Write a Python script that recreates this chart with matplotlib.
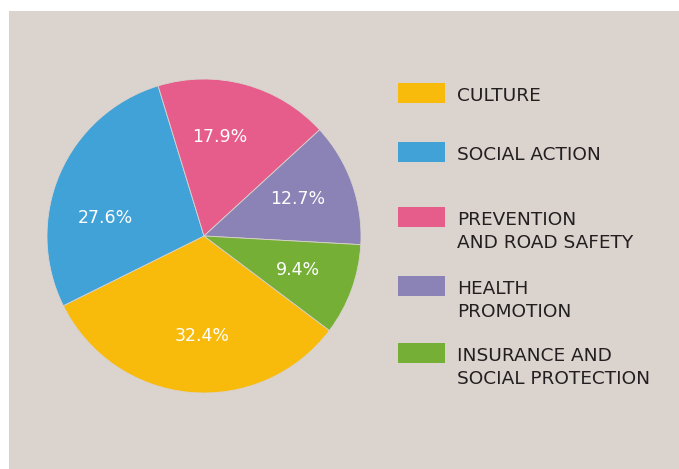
import numpy as np
import matplotlib
matplotlib.use("Agg")
import matplotlib.pyplot as plt
from matplotlib.patches import Rectangle

categories = ["CULTURE", "SOCIAL ACTION", "PREVENTION\nAND ROAD SAFETY",
              "HEALTH\nPROMOTION", "INSURANCE AND\nSOCIAL PROTECTION"]
values = [32.4, 27.6, 17.9, 12.7, 9.4]
colors = ["#F8BA0B", "#40A2D6", "#E65D8C", "#8B82B5", "#75AF36"]

W, H = 679, 469
BG = "#DAD3CE"
TEXT = "#231F20"
FONT = ["DejaVu Sans"]

fig = plt.figure(figsize=(W / 100, H / 100), dpi=100)
fig.patch.set_facecolor("white")
fig.patches.append(Rectangle((9 / W, 0), 1 - 9 / W, 1 - 11 / H,
                             transform=fig.transFigure, facecolor=BG,
                             edgecolor="none", zorder=-10))

cx, cy, r = 204, 236, 157
ax = fig.add_axes([(cx - r) / W, (H - cy - r) / H, 2 * r / W, 2 * r / H])
ax.set_zorder(5)
wedges, texts, autotexts = ax.pie(
    values, colors=colors, startangle=-37, counterclock=False,
    autopct="%.1f%%", pctdistance=0.64,
    wedgeprops=dict(linewidth=0.6, edgecolor=BG),
    textprops=dict(color="white", fontsize=12.5, family=FONT))

# nudge label angles (degrees, counter-clockwise) to match the original layout
label_angle_shift = [4.5, 13.0, 6.0, 2.0, 0.0]
for w, t, shift in zip(wedges, autotexts, label_angle_shift):
    ang = np.deg2rad((w.theta1 + w.theta2) / 2 + shift)
    t.set_position((0.64 * np.cos(ang), 0.64 * np.sin(ang)))

ax.set_xlim(-1, 1)
ax.set_ylim(-1, 1)
ax.set_aspect("equal")
ax.axis("off")

# legend
patch_x, patch_w, patch_h = 398, 47, 20
text_x = 457
centers = [93, 152, 217, 286, 353]
for cat, col, yc in zip(categories, colors, centers):
    fig.patches.append(Rectangle((patch_x / W, (H - yc - patch_h / 2) / H),
                                 patch_w / W, patch_h / H,
                                 transform=fig.transFigure, facecolor=col,
                                 edgecolor="none", zorder=2))
    lines = cat.split("\n")
    for i, line in enumerate(lines):
        fig.text(text_x / W, (H - yc - 8 - 23 * i) / H, line, ha="left",
                 va="baseline", color=TEXT, fontsize=13.3, family=FONT)

fig.savefig("out.png", dpi=100, facecolor=fig.get_facecolor())
